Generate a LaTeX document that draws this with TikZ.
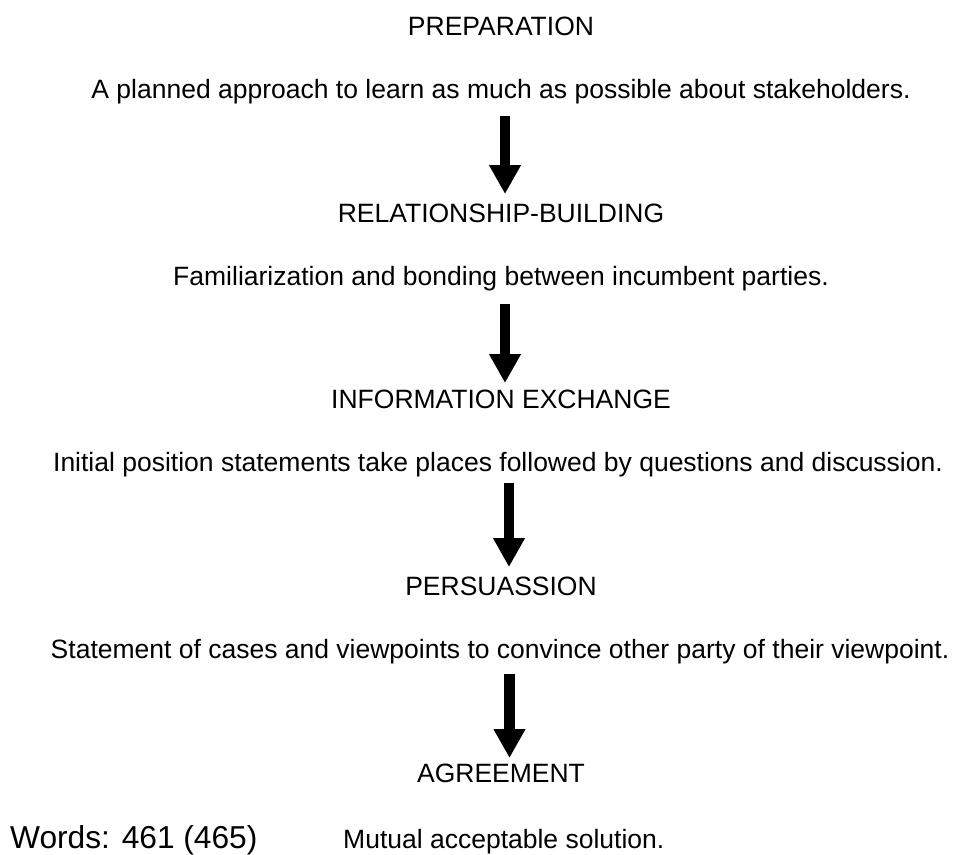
\documentclass[tikz,border=0pt]{standalone}
\usepackage{fontspec}
\setmainfont{Liberation Sans}
\usetikzlibrary{arrows.meta}
\begin{document}
\begin{tikzpicture}[x=1pt,y=-1pt,
  txt/.style={font=\fontsize{26.5}{30}\selectfont, inner sep=0pt, anchor=base},
  big/.style={font=\fontsize{31.7}{36}\selectfont, inner sep=0pt, anchor=base west},
  flow/.style={line width=10.5pt, -{Triangle[width=30pt,length=29pt]}}]
\useasboundingbox (0,0) rectangle (955,854);
\node[txt] (t1) at (501,35) {PREPARATION};
\node[txt] (d1) at (501,98) {A planned approach to learn as much as possible about stakeholders.};
\node[txt] (t2) at (501,222) {RELATIONSHIP-BUILDING};
\node[txt] (d2) at (501,285) {Familiarization and bonding between incumbent parties.};
\node[txt] (t3) at (501,408) {INFORMATION EXCHANGE};
\node[txt] (d3) at (498,471) {Initial position statements take places followed by questions and discussion.};
\node[txt] (t4) at (501,595) {PERSUASSION};
\node[txt] (d4) at (500,658) {Statement of cases and viewpoints to convince other party of their viewpoint.};
\node[txt] (t5) at (501,782) {AGREEMENT};
\node[big] (w) at (10,848) {Words: 461 (465)};
\node[txt, anchor=base west] (d5) at (343,848) {Mutual acceptable solution.};
\coordinate (a1s) at (505,116); \coordinate (a1e) at (505,194);
\coordinate (a2s) at (505,304); \coordinate (a2e) at (505,383);
\coordinate (a3s) at (509,483); \coordinate (a3e) at (509,567);
\coordinate (a4s) at (509.5,674); \coordinate (a4e) at (509.5,758);
\draw[flow] (a1s) -- (a1e);
\draw[flow] (a2s) -- (a2e);
\draw[flow] (a3s) -- (a3e);
\draw[flow] (a4s) -- (a4e);
\end{tikzpicture}
\end{document}
